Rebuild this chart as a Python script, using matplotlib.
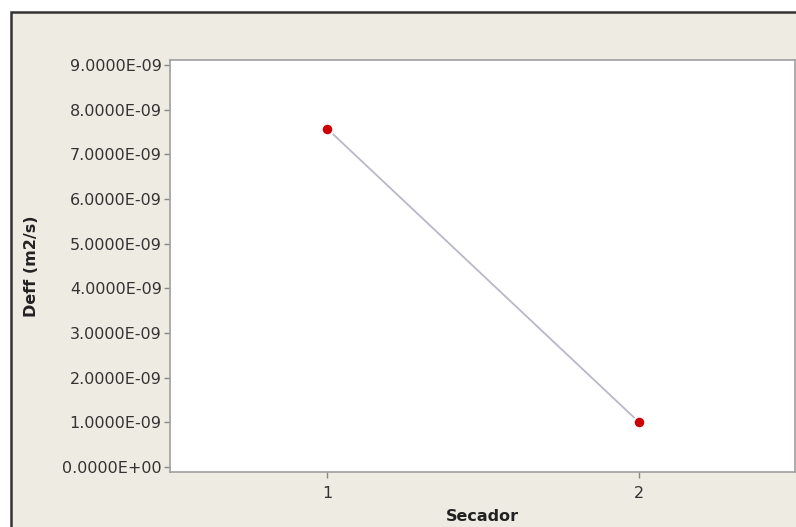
import matplotlib.pyplot as plt
from matplotlib.patches import Rectangle
from matplotlib.ticker import FuncFormatter

secador = [1, 2]
deff = [7.57e-09, 1.0e-09]
y_ticks = [i * 1e-09 for i in range(10)]

fig = plt.figure(figsize=(7.96, 5.27), dpi=100)
fig.patch.set_facecolor('white')

# beige panel of the original window
panel = Rectangle((11 / 796, -0.1), 1.0, 1 - 12 / 527 + 0.1, transform=fig.transFigure,
                  facecolor='#eeebe2', edgecolor='#333333', linewidth=1.8, zorder=-1)
fig.patches.append(panel)

ax = fig.add_axes([170 / 796, 1 - 472 / 527, 625 / 796, 412 / 527])
ax.set_zorder(1)
ax.set_facecolor('white')
ax.plot(secador, deff, color='#bcb6c8', linewidth=1.3, zorder=2)
ax.scatter(secador, deff, s=70, color='#cc0000', edgecolors='white', linewidths=1.5, zorder=3)

ax.set_xlim(0.495, 2.5)
ax.set_ylim(-0.112e-09, 9.112e-09)
ax.set_xticks(secador)
ax.set_yticks(y_ticks)
ax.yaxis.set_major_formatter(FuncFormatter(lambda v, p: '%.4E' % v))

for s in ax.spines.values():
    s.set_color('#a0a0a0')
    s.set_linewidth(1.2)
ax.tick_params(axis='both', colors='#888888', length=4, width=1, labelsize=11.5, labelcolor='#333333')
ax.tick_params(axis='x', pad=6)
ax.tick_params(axis='y', pad=2)

ax.set_ylabel('Deff (m2/s)', fontsize=11.5, fontweight='bold', color='#222222')
ax.yaxis.set_label_coords(-0.21, 0.5)
ax.set_xlabel('Secador', fontsize=11.5, fontweight='bold', color='#222222', labelpad=6)

fig.savefig('out.png', dpi=100)
